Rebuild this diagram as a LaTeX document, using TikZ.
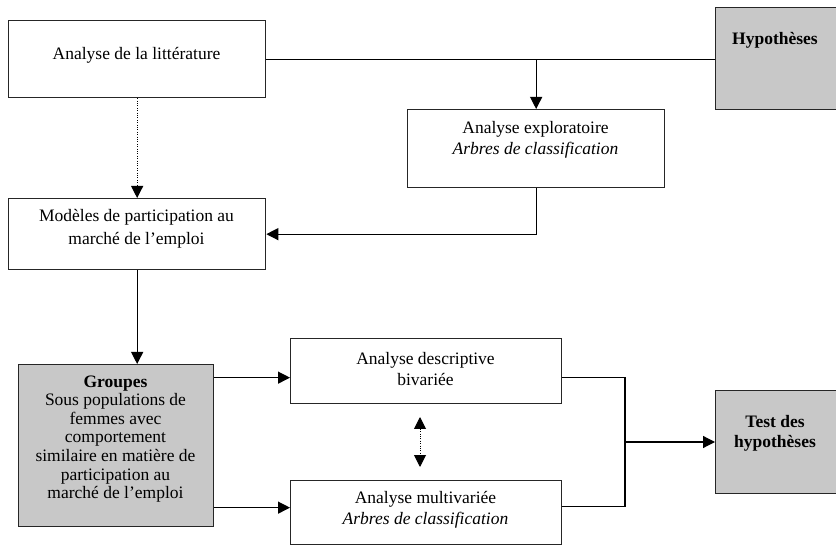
\documentclass[tikz,border=0pt]{standalone}
\usepackage{fontspec}
\setmainfont{Liberation Serif}
\usetikzlibrary{arrows.meta}
\definecolor{boxgray}{RGB}{200,200,200}
\begin{document}
\begin{tikzpicture}[x=1pt,y=-1pt,
  line width=1.2pt,
  box/.style={draw=black!85, line width=1.3pt, inner sep=0pt, anchor=north west},
  graybox/.style={box, fill=boxgray},
  txt/.style={align=center, inner sep=0pt, font=\fontsize{17.5}{20.5}\selectfont},
  arr/.style={-{Triangle[length=12pt,width=12pt]}},
  darr/.style={{Triangle[length=12pt,width=12pt]}-{Triangle[length=12pt,width=12pt]}},
  dots/.style={dash pattern=on 1pt off 1.4pt, line width=1pt}]
\useasboundingbox (0,0) rectangle (836,545);
% boxes
\node[box, minimum width=257pt, minimum height=77pt] (lit) at (8,20) {};
\node[graybox, minimum width=121pt, minimum height=102pt] (hyp) at (715,7) {};
\node[box, minimum width=257pt, minimum height=78pt] (expl) at (407,109) {};
\node[box, minimum width=257pt, minimum height=71pt] (mod) at (8,198) {};
\node[graybox, minimum width=195pt, minimum height=162pt] (grp) at (18,364) {};
\node[box, minimum width=271pt, minimum height=65pt] (desc) at (290,338) {};
\node[box, minimum width=271pt, minimum height=64pt] (multi) at (290,480) {};
\node[graybox, minimum width=121pt, minimum height=103pt] (test) at (715,390) {};
% texts
\node[txt] (litT) at (136.5,55) {Analyse de la littérature};
\node[txt] (hypT) at (775,40) {\textbf{Hypothèses}};
\node[txt] (explT) at (535.5,140) {Analyse exploratoire\\\textit{Arbres de classification}};
\node[txt, font=\fontsize{17.5}{23.5}\selectfont] (modT) at (136.5,229) {Modèles de participation au\\marché de l’emploi};
\node[txt, font=\fontsize{17.5}{18.6}\selectfont] (grpT) at (115.5,439) {\textbf{Groupes}\\Sous populations de\\femmes avec\\comportement\\similaire en matière de\\participation au\\marché de l’emploi};
\node[txt] (descT) at (425.5,369) {Analyse descriptive\\bivariée};
\node[txt] (multiT) at (425.5,510) {Analyse multivariée\\\textit{Arbres de classification}};
\node[txt] (testT) at (775,433.5) {\textbf{Test des}\\\textbf{hypothèses}};
% helper coordinates
\coordinate (dIn) at ([yshift=-6.5pt]desc.west);
\coordinate (dOut) at ([yshift=-6.5pt]desc.east);
\coordinate (mIn) at ([yshift=5pt]multi.west);
\coordinate (mOut) at ([yshift=6pt]multi.east);
\coordinate (jx) at (625,442);
\coordinate (da) at (420,417);
\coordinate (db) at (420,467);
% connectors
\draw (lit.east) -- (lit.east -| hyp.west);
\draw[arr] (lit.east -| expl.north) -- (expl.north);
\draw[arr, dots] (lit.south) -- (mod.north);
\draw[arr] (expl.south) -- (expl.south |- mod.east) -- (mod.east);
\draw[arr] (mod.south) -- (mod.south |- grp.north);
\draw[arr] (grp.east |- dIn) -- (dIn);
\draw[arr] (grp.east |- mIn) -- (mIn);
\draw[darr, dots] (da) -- (db);
\draw (dOut) -- (dOut -| jx) -- (jx |- mOut) -- (mOut);
\draw[arr] (jx) -- (jx -| test.west);
\end{tikzpicture}
\end{document}
